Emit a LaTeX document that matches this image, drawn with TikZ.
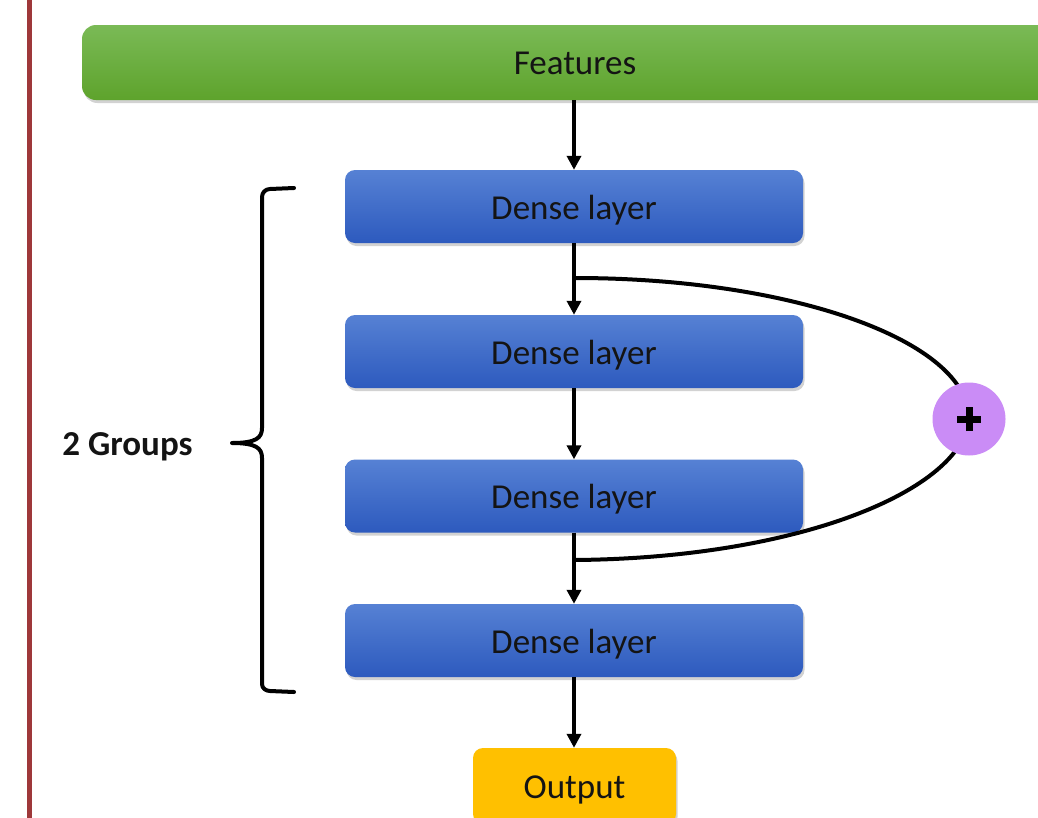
\documentclass[tikz,border=0pt]{standalone}
\usepackage{fontspec}
\setmainfont{Carlito}
\usetikzlibrary{arrows.meta,shadows}
\definecolor{grtop}{RGB}{122,186,86}
\definecolor{grbot}{RGB}{94,163,44}
\definecolor{bltop}{RGB}{86,129,212}
\definecolor{blbot}{RGB}{45,90,190}
\definecolor{outc}{RGB}{255,192,0}
\definecolor{plusc}{RGB}{202,140,246}
\definecolor{redline}{RGB}{158,56,58}
\definecolor{txt}{RGB}{20,20,20}
\newcommand{\lowr}[1]{\raisebox{-3.5pt}[\height][\depth]{#1}}
\tikzset{
  boxshadow/.style={drop shadow={opacity=0.35,shadow xshift=1.5pt,shadow yshift=-3pt}},
  featbox/.style={rounded corners=14pt,top color=grtop,bottom color=grbot,boxshadow,
    minimum width=986pt,minimum height=75pt,inner sep=0pt,text=txt},
  densebox/.style={rounded corners=10pt,top color=bltop,bottom color=blbot,boxshadow,
    minimum width=458pt,minimum height=73pt,inner sep=0pt,text=txt},
  outbox/.style={rounded corners=10pt,fill=outc,boxshadow,
    minimum width=203pt,minimum height=76pt,inner sep=0pt,text=txt},
  flow/.style={line width=3.6pt,-{Triangle[length=14pt,width=14pt]}},
  skip/.style={line width=4pt},
  plusnode/.style={circle,fill=plusc,minimum size=73pt,inner sep=0pt,
    path picture={\draw[line width=7pt] ([xshift=-12pt]path picture bounding box.center) -- ([xshift=12pt]path picture bounding box.center);
                  \draw[line width=7pt] ([yshift=-12pt]path picture bounding box.center) -- ([yshift=12pt]path picture bounding box.center);}},
}
\begin{document}
\begin{tikzpicture}[x=1pt,y=-1pt,font=\fontsize{35}{42}\selectfont]
\useasboundingbox (0,0) rectangle (1038,817);
\clip (0,0) rectangle (1038,817);
\fill[white] (0,0) rectangle (1038,817);
\draw[line width=5pt,redline] (29.5,-5) -- (29.5,822);
\node[featbox] (feat) at (575,62.5) {\raisebox{-1pt}[\height][\depth]{Features}};
\node[densebox] (d1) at (574,206.5) {\lowr{Dense layer}};
\node[densebox] (d2) at (574,351.5) {\lowr{Dense layer}};
\node[densebox] (d3) at (574,496) {\lowr{Dense layer}};
\node[densebox] (d4) at (574,640.5) {\lowr{Dense layer}};
\node[outbox] (out) at (574.5,786) {\lowr{Output}};
\draw[flow] (feat.south -| d1.north) -- (d1.north);
\draw[flow] (d1) -- (d2);
\draw[flow] (d2) -- (d3);
\draw[flow] (d3) -- (d4);
\draw[flow] (d4.south) -- (d4.south |- out.north);
\coordinate (b1) at (575,278);
\coordinate (b2) at (575,560);
\coordinate (pc) at (969,419);
\draw[skip] (b1) .. controls (792,278) and (969,341) .. (pc);
\draw[skip] (pc) .. controls (962,490) and (800,558) .. (b2);
\node[plusnode] (plus) at (pc) {};
\draw[line width=4pt,line cap=round,line join=round]
  (294,188) -- (270,189) to[out=180,in=90] (262,197) -- (262,428)
  .. controls (262,438) and (256,443) .. (232,443)
  (262,458) .. controls (262,448) and (256,443) .. (232,443)
  (262,458) -- (262,684) to[out=-90,in=180] (270,691) -- (294,692);
\node[font=\fontsize{35}{42}\selectfont\bfseries,text=txt] (grp) at (127.5,443) {\lowr{2 Groups}};
\end{tikzpicture}
\end{document}
